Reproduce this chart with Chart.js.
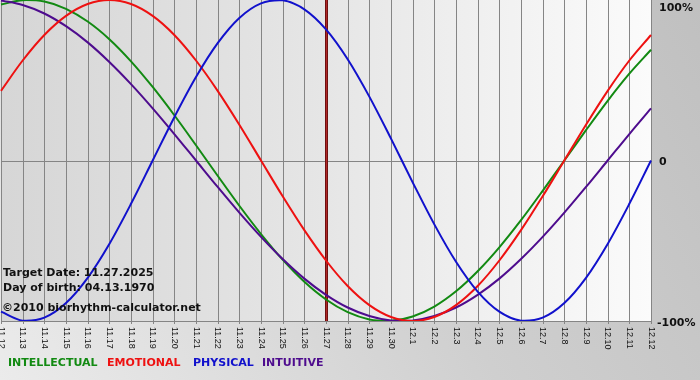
<!DOCTYPE html>
<html>
<head>
<meta charset="utf-8">
<script src="https://cdn.jsdelivr.net/npm/chart.js@4.4.0/dist/chart.umd.min.js"></script>
<style>
html,body{margin:0;padding:0;background:#d0d0d0;}
#wrap{position:absolute;left:0;top:0;width:700px;height:380px;}
</style>
</head>
<body>
<div id="wrap"><canvas id="c" width="700" height="380"></canvas></div>
<script>
// Categories (dates) and tick labels
const dateLabels = ["11.12","11.13","11.14","11.15","11.16","11.17","11.18","11.19","11.20","11.21","11.22","11.23","11.24","11.25","11.26","11.27","11.28","11.29","11.30","12.1","12.2","12.3","12.4","12.5","12.6","12.7","12.8","12.9","12.10","12.11","12.12"];
const yTickLabels = [{v:100,t:"100%"},{v:0,t:"0"},{v:-100,t:"-100%"}];

// Series values (percent)
const physical     = [-94.2,-99.8,-97.9,-88.8,-73.1,-52.0,-27.0,0,27.0,52.0,73.1,88.8,97.9,99.8,94.2,81.7,63.1,39.8,13.6,-13.6,-39.8,-63.1,-81.7,-94.2,-99.8,-97.9,-88.8,-73.1,-52.0,-27.0,0];
const emotional    = [43.4,62.3,78.2,90.1,97.5,100,97.5,90.1,78.2,62.3,43.4,22.3,0,-22.3,-43.4,-62.3,-78.2,-90.1,-97.5,-100,-97.5,-90.1,-78.2,-62.3,-43.4,-22.3,0,22.3,43.4,62.3,78.2];
const intellectual = [97.2,99.9,99.0,94.5,86.6,75.6,61.8,45.8,28.2,9.5,-9.5,-28.2,-45.8,-61.8,-75.6,-86.6,-94.5,-99.0,-99.9,-97.2,-91.0,-81.5,-69.0,-54.1,-37.2,-18.9,0,18.9,37.2,54.1,69.0];
const intuitive    = [99.7,96.9,91.6,83.7,73.6,61.4,47.6,32.5,16.5,0,-16.5,-32.5,-47.6,-61.4,-73.6,-83.7,-91.6,-96.9,-99.7,-99.7,-96.9,-91.6,-83.7,-73.6,-61.4,-47.6,-32.5,-16.5,0,16.5,32.5];

const targetDate = "11.27";
const infoLines = ["Target Date: 11.27.2025","Day of birth: 04.13.1970"];
const copyrightText = "\u00A92010 biorhythm-calculator.net";
const legendItems = [
  {t:"INTELLECTUAL", c:"#128a12"},
  {t:"EMOTIONAL", c:"#ee1111"},
  {t:"PHYSICAL", c:"#1111cc"},
  {t:"INTUITIVE", c:"#4e0c8e"}
];

const COLORS = {int:"#128a12", emo:"#ee1111", phy:"#1111cc", itu:"#4e0c8e"};

const decor = {
  id:"decor",
  beforeDraw(chart){
    const ctx = chart.ctx, a = chart.chartArea;
    const W = chart.width, H = chart.height;
    ctx.save();
    // outer background
    let g = ctx.createLinearGradient(0, H, W, 0);
    g.addColorStop(0, "#ebebeb");
    g.addColorStop(0.55, "#cfcfcf");
    g.addColorStop(1, "#c0c0c0");
    ctx.fillStyle = g;
    ctx.fillRect(0,0,W,H);
    // plot background
    g = ctx.createLinearGradient(a.left, 0, a.right, 0);
    g.addColorStop(0, "#d6d6d6");
    g.addColorStop(0.5, "#e6e6e6");
    g.addColorStop(1, "#fbfbfb");
    ctx.fillStyle = g;
    ctx.fillRect(a.left, a.top, a.right - a.left, a.bottom - a.top);
    const xs = chart.scales.x, ys = chart.scales.y;
    ctx.strokeStyle = "#858585";
    ctx.lineWidth = 1;
    ctx.beginPath();
    for (let i = 0; i < dateLabels.length; i++){
      const x = Math.round(xs.getPixelForValue(i)) + 0.5;
      ctx.moveTo(x, a.top);
      ctx.lineTo(x, a.bottom + 3);
    }
    const y0 = Math.round(ys.getPixelForValue(0)) + 0.5;
    ctx.moveTo(a.left, y0); ctx.lineTo(a.right, y0);
    const yb = Math.round(a.bottom) + 0.5;
    ctx.moveTo(a.left, yb); ctx.lineTo(a.right + 1, yb);
    ctx.stroke();
    // target date line
    const ti = dateLabels.indexOf(targetDate);
    const tx = Math.round(xs.getPixelForValue(ti));
    ctx.fillStyle = "#6e1010";
    ctx.fillRect(tx - 1, a.top, 3, a.bottom - a.top);
    ctx.fillStyle = "#b02828";
    ctx.fillRect(tx, a.top, 1, a.bottom - a.top);
    ctx.restore();
  },
  afterDatasetsDraw(chart){
    const ctx = chart.ctx, a = chart.chartArea;
    const xs = chart.scales.x, ys = chart.scales.y;
    ctx.save();
    // x tick labels rotated clockwise
    ctx.fillStyle = "#111";
    ctx.font = "9px 'Liberation Sans', Arial, sans-serif";
    ctx.textBaseline = "middle";
    ctx.textAlign = "left";
    for (let i = 0; i < dateLabels.length; i++){
      const x = xs.getPixelForValue(i);
      ctx.save();
      ctx.translate(x, a.bottom + 6);
      ctx.rotate(Math.PI/2);
      ctx.fillText(dateLabels[i], 0, 0);
      ctx.restore();
    }
    // y labels on the right
    ctx.font = "bold 11px 'DejaVu Sans', Verdana, sans-serif";
    ctx.textBaseline = "alphabetic";
    ctx.fillStyle = "#111";
    yTickLabels.forEach(o => {
      let y = ys.getPixelForValue(o.v);
      let base = y + 4;
      if (o.v === 100) base = 11;
      if (o.v === -100) base = 326;
      ctx.fillText(o.t, o.v === -100 ? 657 : 659, base);
    });
    // info texts
    ctx.fillStyle = "#111";
    ctx.font = "bold 11px 'DejaVu Sans', Verdana, sans-serif";
    ctx.fillText(infoLines[0], 3, 276);
    ctx.fillText(infoLines[1], 3, 291);
    ctx.fillText(copyrightText, 2, 311);
    // legend
    ctx.font = "bold 11px 'DejaVu Sans', Verdana, sans-serif";
    const lx = [8, 107, 193, 262];
    legendItems.forEach((it, i) => {
      ctx.fillStyle = it.c;
      ctx.fillText(it.t, lx[i], 366);
    });
    ctx.restore();
  }
};

const ds = (label, data, color, order) => ({
  label, data, borderColor: color, backgroundColor: color,
  borderWidth: 2, pointRadius: 0, pointHoverRadius: 0,
  tension: 0.33, fill: false, order
});

new Chart(document.getElementById("c"), {
  type: "line",
  data: {
    labels: dateLabels,
    datasets: [
      ds("PHYSICAL", physical, COLORS.phy, 0),
      ds("EMOTIONAL", emotional, COLORS.emo, 1),
      ds("INTUITIVE", intuitive, COLORS.itu, 2),
      ds("INTELLECTUAL", intellectual, COLORS.int, 3)
    ]
  },
  options: {
    responsive: false,
    devicePixelRatio: 1,
    animation: false,
    events: [],
    layout: { padding: { left: 1, right: 49, top: 0, bottom: 59 } },
    plugins: { legend: { display: false }, tooltip: { enabled: false } },
    scales: {
      x: { display: false, offset: false },
      y: { display: false, min: -100, max: 100 }
    }
  },
  plugins: [decor]
});
</script>
</body>
</html>
